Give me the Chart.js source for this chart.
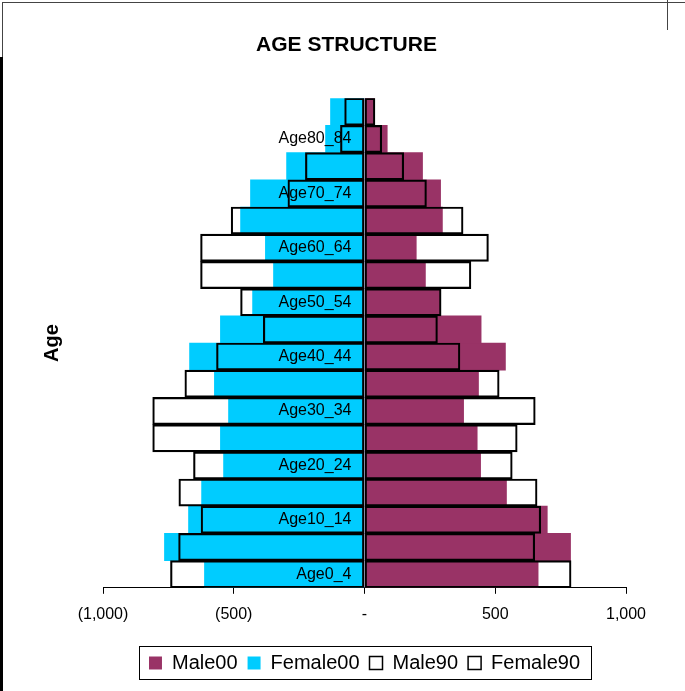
<!DOCTYPE html>
<html>
<head>
<meta charset="utf-8">
<title>Age structure</title>
<script src="https://cdn.jsdelivr.net/npm/chart.js@4/dist/chart.umd.min.js"></script>
<style>
  html, body { margin: 0; padding: 0; background: #fff; }
  #wrap { position: relative; width: 685px; height: 691px; overflow: hidden; }
  #wrap canvas { display: block; }
  .edge { position: absolute; background: #000; }
</style>
</head>
<body>
<div id="wrap">
  <canvas id="pyramid" width="685" height="691"></canvas>
  <!-- window edges seen in the screenshot -->
  <div class="edge" style="left:2px; top:2px; width:683px; height:1px; background:#444"></div>
  <div class="edge" style="left:2px; top:2px; width:1px; height:60px; background:#444"></div>
  <div class="edge" style="left:0; top:57px; width:3px; height:634px"></div>
  <div class="edge" style="left:667px; top:0; width:1px; height:30px; background:#444"></div>
</div>
<script>
// age groups, bottom to top
const ageGroups = [
  'Age0_4', 'Age5_9', 'Age10_14', 'Age15_19', 'Age20_24', 'Age25_29',
  'Age30_34', 'Age35_39', 'Age40_44', 'Age45_49', 'Age50_54', 'Age55_59',
  'Age60_64', 'Age65_69', 'Age70_74', 'Age75_79', 'Age80_84', 'Age85_89'
];
const male00   = [664, 788, 699, 543, 444, 431, 379, 436, 539, 446, 291, 233, 198, 298, 291, 222, 87, 38];
const female00 = [-612, -765, -673, -623, -539, -551, -520, -574, -669, -551, -428, -348, -379, -474, -436, -298, -149, -130];
const male90   = [790, 651, 674, 660, 565, 584, 653, 515, 365, 279, 293, 407, 474, 377, 237, 150, 66, 40];
const female90 = [-742, -711, -625, -710, -654, -810, -810, -687, -566, -387, -474, -627, -627, -510, -293, -226, -92, -76];

const FONT = 'Arial, "Liberation Sans", sans-serif';

// excel accounting style: (1,000)  -  500
function accounting(v) {
  if (v === 0) return '-';
  const s = Math.abs(v).toLocaleString('en-US');
  return v < 0 ? '(' + s + ')' : s;
}

// rotated "Age" title on the far left, and title nudged a bit left like the original
const ageTitle = {
  id: 'ageTitle',
  afterLayout(chart) {
    chart.titleBlock.left -= 18;
    chart.titleBlock.right -= 18;
  },
  afterDraw(chart) {
    const { ctx, chartArea } = chart;
    ctx.save();
    ctx.translate(chartArea.left - 51, (chartArea.top + chartArea.bottom) / 2);
    ctx.rotate(-Math.PI / 2);
    ctx.font = 'bold 20px ' + FONT;
    ctx.fillStyle = '#000';
    ctx.textAlign = 'center';
    ctx.textBaseline = 'middle';
    ctx.fillText('Age', 0, 0);
    ctx.restore();
  }
};

// box around the legend items
const legendFrame = {
  id: 'legendFrame',
  afterDraw(chart) {
    const boxes = chart.legend && chart.legend.legendHitBoxes;
    if (!boxes || !boxes.length) return;
    const ctx = chart.ctx;
    const left = Math.min(...boxes.map(b => b.left)) - 10;
    const right = Math.max(...boxes.map(b => b.left + b.width)) + 11;
    const mid = boxes[0].top + boxes[0].height / 2;
    ctx.save();
    ctx.strokeStyle = '#000';
    ctx.lineWidth = 1;
    ctx.strokeRect(Math.round(left) + 0.5, Math.round(mid - 17) + 0.5, Math.round(right - left), 33);
    ctx.restore();
  }
};

const outline = {
  backgroundColor: 'rgba(255,255,255,0)',
  borderColor: '#000',
  borderWidth: 1.5,
  borderSkipped: false,
  order: 1
};

window.pyramidChart = new Chart(document.getElementById('pyramid').getContext('2d'), {
  type: 'bar',
  data: {
    labels: ageGroups,
    datasets: [
      { label: 'Male00', data: male00, backgroundColor: '#993366', order: 2 },
      { label: 'Female00', data: female00, backgroundColor: '#00CCFF', order: 2 },
      Object.assign({ label: 'Male90', data: male90 }, outline),
      Object.assign({ label: 'Female90', data: female90 }, outline)
    ]
  },
  options: {
    indexAxis: 'y',
    responsive: false,
    animation: false,
    layout: { padding: { left: 103, right: 59, top: 25, bottom: 8 } },
    datasets: {
      bar: { grouped: false, barPercentage: 1, categoryPercentage: 1 }
    },
    scales: {
      x: {
        min: -1000,
        max: 1000,
        afterFit(scale) { scale.height += 8; },
        ticks: {
          stepSize: 500,
          maxRotation: 0,
          padding: 11,
          color: '#000',
          font: { family: FONT, size: 16 },
          callback: (v) => accounting(v)
        },
        grid: { drawOnChartArea: false, drawTicks: true, tickLength: 6, color: '#000' },
        border: { color: '#000', width: 1 }
      },
      y: {
        reverse: true,
        // labels sit just left of the zero line; the line itself comes from the outline bars
        position: { x: -50 },
        grid: { display: false, drawTicks: false },
        border: { display: false },
        ticks: {
          z: 1,
          autoSkip: false,
          color: '#000',
          font: { family: FONT, size: 16 },
          callback(value, index) {
            return index % 2 === 0 ? this.getLabelForValue(value) : '';
          }
        }
      }
    },
    plugins: {
      title: {
        display: true,
        text: 'AGE STRUCTURE',
        color: '#000',
        font: { family: FONT, size: 21, weight: 'bold' },
        padding: { top: 8, bottom: 40 }
      },
      legend: {
        position: 'bottom',
        fullSize: false,
        labels: {
          boxWidth: 13,
          boxHeight: 13,
          padding: 10,
          color: '#000',
          font: { family: FONT, size: 20 },
          sort: (a, b) => a.datasetIndex - b.datasetIndex
        }
      },
      tooltip: { enabled: false }
    }
  },
  plugins: [ageTitle, legendFrame]
});
</script>
</body>
</html>
